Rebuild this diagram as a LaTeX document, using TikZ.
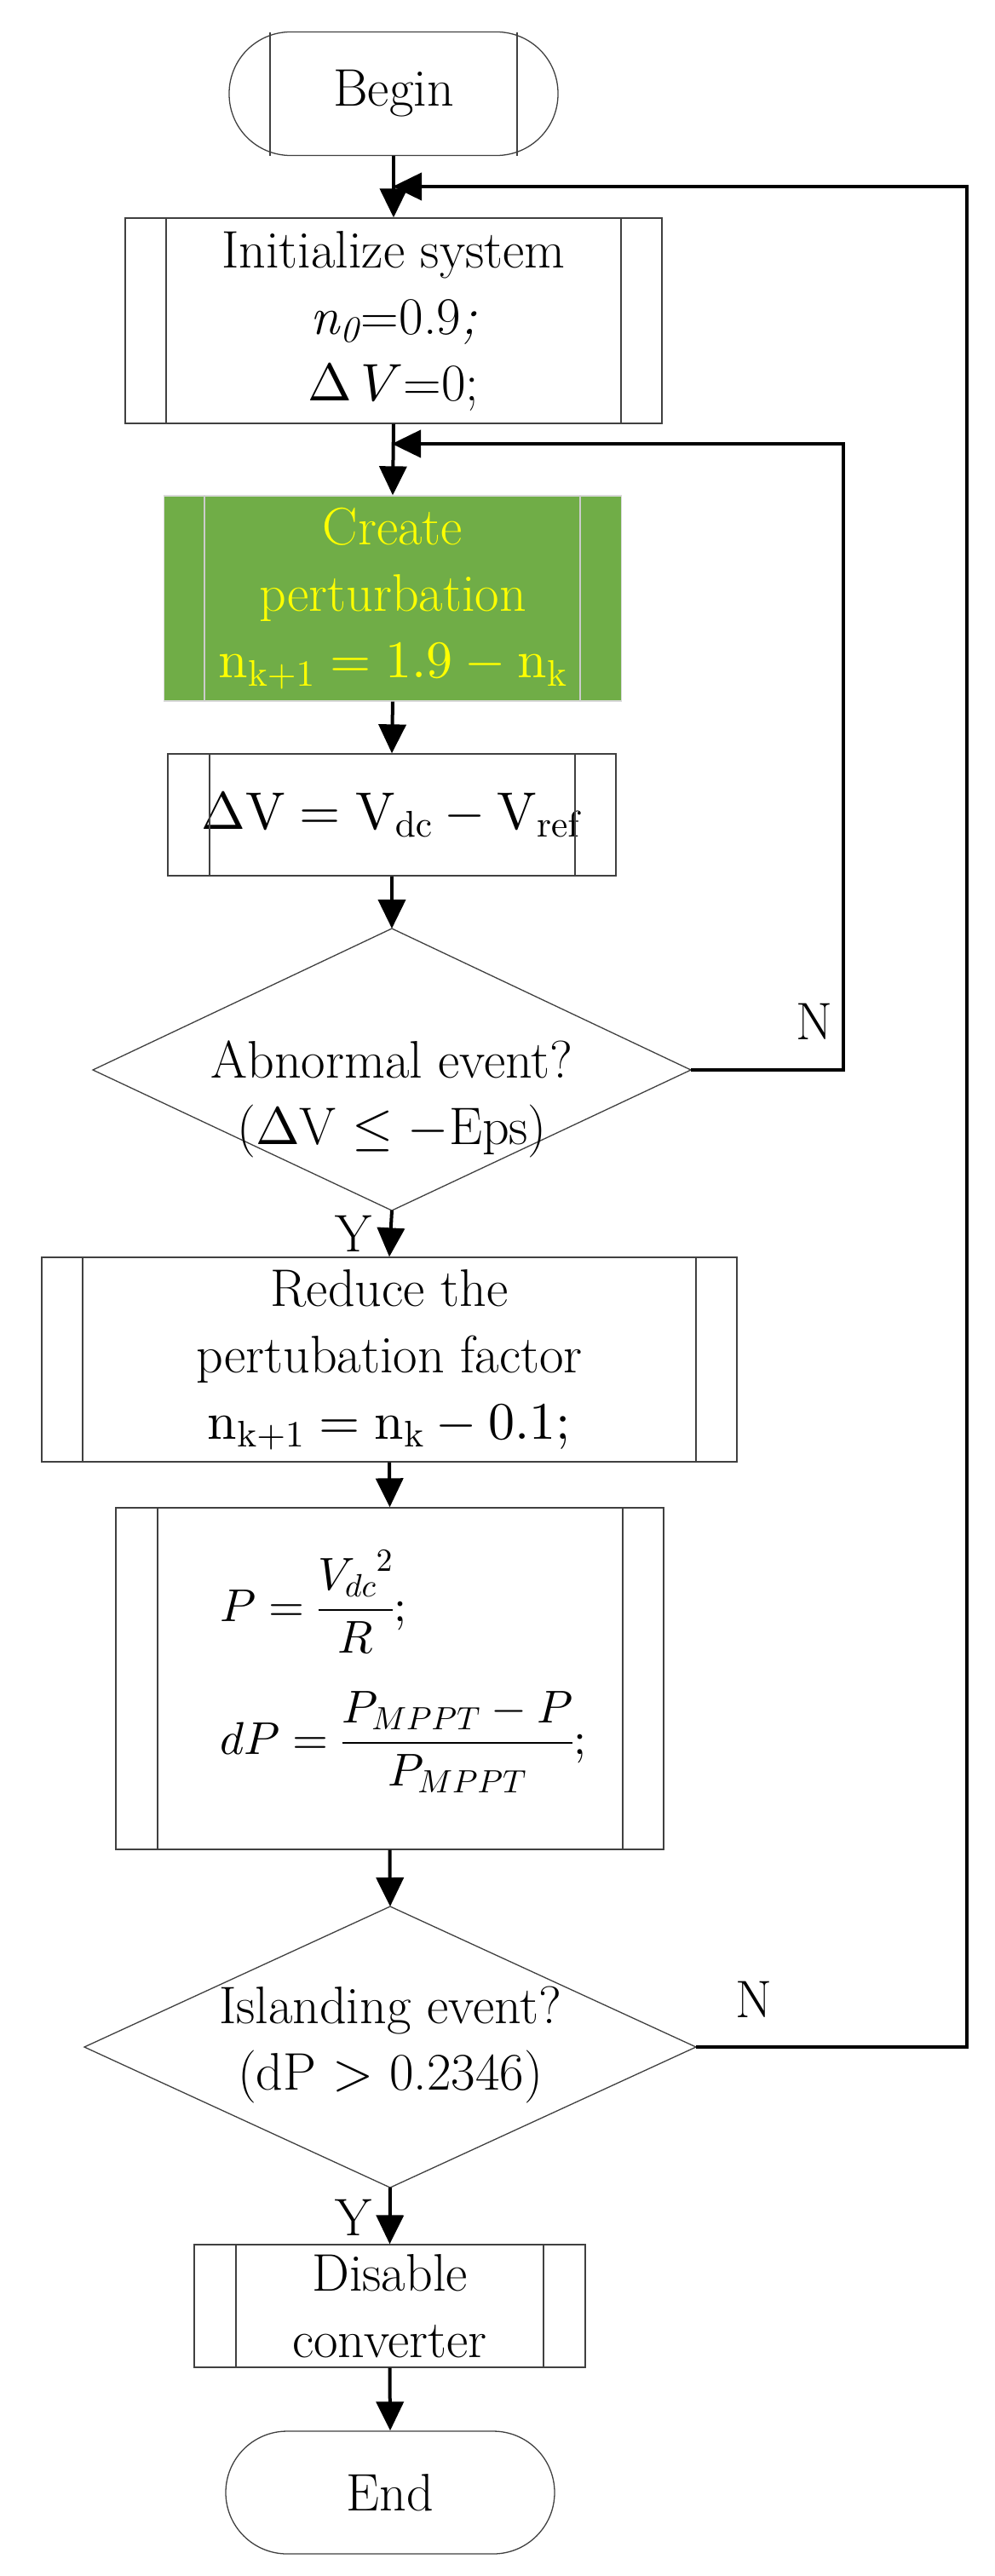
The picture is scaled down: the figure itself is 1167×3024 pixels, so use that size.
\documentclass[tikz,border=0pt]{standalone}
\DeclareFontShape{OT1}{cmr}{m}{n}{<->cmr10}{}
\DeclareFontShape{OML}{cmm}{m}{it}{<->cmmi10}{}
\DeclareFontShape{OMS}{cmsy}{m}{n}{<->cmsy10}{}
\DeclareFontShape{OMX}{cmex}{m}{n}{<->cmex10}{}
\usetikzlibrary{arrows.meta}
\begin{document}
\begin{tikzpicture}[x=1pt,y=-1pt,
  box/.style={draw=black!75,line width=1.3pt,rectangle,inner sep=0pt,align=center,font=\fontsize{62}{78}\selectfont},
  term/.style={box,rounded corners=72pt},
  lbl/.style={font=\fontsize{62}{78}\selectfont,inner sep=0pt},
  arr/.style={line width=4pt,-{Triangle[length=34pt,width=32pt]}},
  ln/.style={line width=4pt}]
\useasboundingbox (0,0) rectangle (1167,3024);
% Begin
\node[term,minimum width=386pt,minimum height=145pt] (begin) at (462,110) {Begin};
\draw[black!75,line width=1.3pt] (317,38) -- (317,183) (607,38) -- (607,183);
% Init
\node[box,minimum width=630pt,minimum height=241pt] (init) at (462,376.5) {Initialize system\\\textit{n}\textsubscript{\textit{0}}=0.9\textit{;}\\$\Delta\,V$=0;};
\draw[black!75,line width=1.3pt] (195,256) -- (195,497) (729,256) -- (729,497);
% green
\node[box,draw=black!15,fill={rgb,255:red,112;green,173;blue,71},text={rgb,255:red,255;green,255;blue,0},minimum width=537pt,minimum height=241pt] (pert) at (461,702.5) {Create\\perturbation\\$\mathrm{n_{k+1}} = 1.9 - \mathrm{n_k}$};
\draw[black!20,line width=1.3pt] (240,582) -- (240,823) (681,582) -- (681,823);
% dV
\node[box,minimum width=526pt,minimum height=143pt] (dv) at (460,956.5) {$\Delta\mathrm{V} = \mathrm{V_{dc}} - \mathrm{V_{ref}}$};
\draw[black!75,line width=1.3pt] (246,885) -- (246,1028) (675,885) -- (675,1028);
% diamond 1
\coordinate (d1n) at (460,1090); \coordinate (d1s) at (460,1421);
\coordinate (d1w) at (109,1256); \coordinate (d1e) at (811,1256);
\draw[black!75,line width=1.3pt] (d1n) -- (d1e) -- (d1s) -- (d1w) -- cycle;
\node[lbl,align=center] (d1t) at (460,1290) {Abnormal event?\\($\Delta$V $\leq -$Eps)};
% reduce
\node[box,minimum width=816pt,minimum height=240pt] (red) at (457,1596) {Reduce the\\pertubation factor\\$\mathrm{n_{k+1}} = \mathrm{n_k} - 0.1;$};
\draw[black!75,line width=1.3pt] (97,1476) -- (97,1716) (817,1476) -- (817,1716);
% formula
\node[box,minimum width=643pt,minimum height=401pt] (form) at (457.5,1970.5) {};
\draw[black!75,line width=1.3pt] (185,1770) -- (185,2171) (731,1770) -- (731,2171);
\node[anchor=west,inner sep=0pt,font=\fontsize{54}{66}\selectfont] (f1) at (258,1880) {$\displaystyle P=\frac{{V_{dc}}^{2}}{R};$};
\node[anchor=west,inner sep=0pt,font=\fontsize{54}{66}\selectfont] (f2) at (258,2045) {$\displaystyle dP=\frac{P_{MPPT}-P}{P_{MPPT}};$};
% diamond 2
\coordinate (d2n) at (458,2238); \coordinate (d2s) at (458,2568);
\coordinate (d2w) at (99,2403); \coordinate (d2e) at (817,2403);
\draw[black!75,line width=1.3pt] (d2n) -- (d2e) -- (d2s) -- (d2w) -- cycle;
\node[lbl,align=center] (d2t) at (458,2400) {Islanding event?\\(dP $>$ 0.2346)};
% disable
\node[box,minimum width=459pt,minimum height=144pt] (dis) at (457.5,2707) {Disable\\converter};
\draw[black!75,line width=1.3pt] (277,2635) -- (277,2779) (638,2635) -- (638,2779);
% end
\node[term,minimum width=386pt,minimum height=144pt] (end) at (458,2926) {End};
% arrows
\draw[arr] (begin.south) -- (init.north);
\draw[arr] (init.south) -- (pert.north);
\draw[arr] (pert.south) -- (dv.north);
\draw[arr] (dv.south) -- (d1n);
\draw[arr] (d1s) -- (red.north);
\draw[arr] (red.south) -- (form.north);
\draw[arr] (form.south) -- (d2n);
\draw[arr] (d2s) -- (dis.north);
\draw[arr] (dis.south) -- (end.north);
% loops
\coordinate (m1) at (460,521); \coordinate (m2) at (461,219);
\draw[arr] (d1e) -- (990,1256) -- (990,521) -- (m1);
\draw[arr] (d2e) -- (1135,2403) -- (1135,219) -- (m2);
% labels
\node[lbl] (n1) at (956,1199) {N};
\node[lbl] (n2) at (885,2347) {N};
\node[lbl] (y1) at (415,1448) {Y};
\node[lbl] (y2) at (415,2603) {Y};
\end{tikzpicture}
\end{document}
